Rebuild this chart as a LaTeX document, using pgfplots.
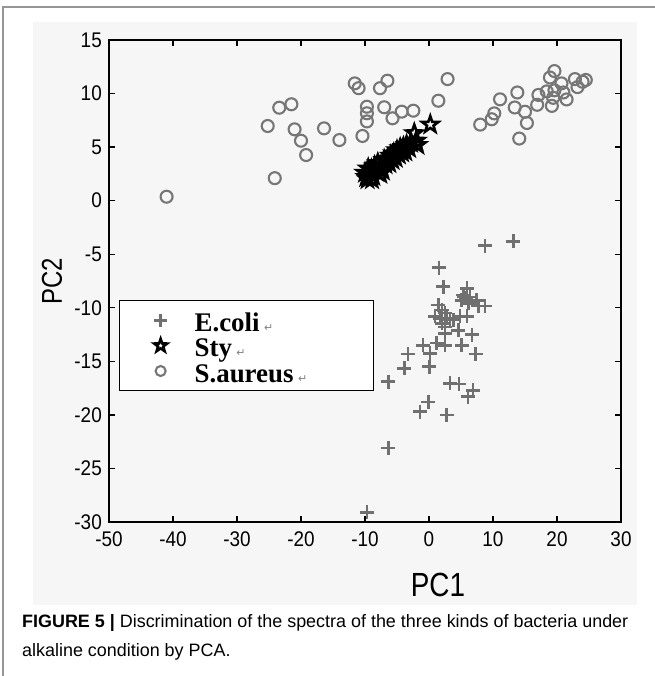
\documentclass[border=0pt]{standalone}
\usepackage{fontspec}
\setmainfont{Liberation Sans}
\newfontfamily\serifb{Liberation Serif}
\newfontfamily\dejavu{DejaVu Sans}
\usepackage{graphicx}
\usepackage{pgfplots}
\pgfplotsset{compat=1.18}
\definecolor{markgray}{RGB}{112,112,112}
\definecolor{circgray}{RGB}{118,118,118}
\definecolor{panel}{RGB}{246,246,246}
\definecolor{framegray}{RGB}{150,150,150}
\pgfdeclareplotmark{pentagram}{%
  \pgfpathmoveto{\pgfpointpolar{90}{\pgfplotmarksize}}%
  \pgfpathlineto{\pgfpointpolar{126}{0.4\pgfplotmarksize}}%
  \pgfpathlineto{\pgfpointpolar{162}{\pgfplotmarksize}}%
  \pgfpathlineto{\pgfpointpolar{198}{0.4\pgfplotmarksize}}%
  \pgfpathlineto{\pgfpointpolar{234}{\pgfplotmarksize}}%
  \pgfpathlineto{\pgfpointpolar{270}{0.4\pgfplotmarksize}}%
  \pgfpathlineto{\pgfpointpolar{306}{\pgfplotmarksize}}%
  \pgfpathlineto{\pgfpointpolar{342}{0.4\pgfplotmarksize}}%
  \pgfpathlineto{\pgfpointpolar{18}{\pgfplotmarksize}}%
  \pgfpathlineto{\pgfpointpolar{54}{0.4\pgfplotmarksize}}%
  \pgfpathclose
  \pgfusepathqstroke
}
\pgfplotsset{mylegimg/.style={legend image code/.code={%
  \draw[##1,mark size=#1] plot coordinates {(31bp,0bp)};
  \path[draw=none,fill=none] (0bp,0bp) -- (65bp,0bp);}}}
\newcommand{\legtext}[1]{\makebox[169bp][l]{\rule[-6.65bp]{0pt}{30.5bp}\serifb\bfseries\fontsize{27}{27}\selectfont #1\,{\dejavu\mdseries\fontsize{11}{11}\selectfont\color{gray}↵}}}
\begin{document}
\begin{tikzpicture}
\path[use as bounding box] (0,0) rectangle (655bp,676bp);
\fill[panel] (33bp,71bp) rectangle (637bp,654bp);
\draw[framegray, line width=2bp] (3bp,0bp) -- (3bp,669bp) -- (655bp,669bp);
\begin{axis}[
  at={(109bp,154bp)}, anchor=south west,
  scale only axis, width=512bp, height=482bp,
  xmin=-50, xmax=30, ymin=-30, ymax=15,
  xtick={-50,-40,...,30}, ytick={-30,-25,...,15},
  tick align=inside, major tick length=6bp,
  axis line style={line width=1.3bp, black},
  every tick/.style={line width=1.3bp, black},
  xticklabel={\scalebox{1}[1.12]{\pgfmathprintnumber[assume math mode=true]{\tick}}},
  yticklabel={\scalebox{1}[1.12]{\pgfmathprintnumber[assume math mode=true]{\tick}}},
  ticklabel style={font=\fontsize{19}{19}\selectfont, inner sep=0pt},
  xticklabel style={yshift=-9bp},
  yticklabel style={xshift=-7bp},
  legend cell align=left,
  legend style={at={(0.0195,0.4606)}, anchor=north west, draw=black, line width=1.3bp,
    fill=white, inner xsep=10bp, inner ysep=7bp, row sep=0bp, column sep=0bp,
    nodes={inner sep=0pt}},
]
\addplot[only marks, mark=+, mark size=7bp, markgray, line width=2.5bp, mark options={solid, line width=2.5bp}, mylegimg=6.5bp]
coordinates {
(8.75,-4.2) (13.2,-3.8) (1.56,-6.26) (2.24,-8.03) (5.9,-8.2) (5.4,-9.0) (5.36,-8.8)
(6.4,-9.0) (5.1,-9.3) (5.8,-9.1) (6.2,-9.6) (7.45,-9.3) (7.7,-9.85) (8.75,-9.85)
(1.46,-9.75) (0.94,-10.8) (2.0,-10.2) (2.5,-10.5) (1.7,-11.0) (2.76,-11.0) (3.3,-11.1)
(2.0,-11.45) (2.5,-11.8) (2.5,-12.4) (3.8,-11.1) (4.84,-10.8) (5.9,-10.8) (4.6,-12.1)
(6.7,-12.5) (1.2,-13.3) (2.5,-13.5) (-0.9,-13.5) (0.16,-14.25) (5.1,-13.5) (7.3,-14.3)
(-3.3,-14.3) (-3.85,-15.65) (0.05,-15.5) (-6.35,-16.9) (3.3,-17.05) (4.7,-17.1)
(6.9,-17.7) (6.1,-18.3) (-0.1,-18.8) (-1.4,-19.7) (2.76,-20.0) (-6.35,-23.1) (-9.7,-29.1)
};
\addlegendentry{\legtext{E.coli}}
\addplot[only marks, mark=pentagram, mark size=8.5bp, black, line width=2.6bp, mark options={solid, line width=2.6bp, line join=miter}, mylegimg=6.8bp]
coordinates {
(-10.0,2.6) (-9.8,2.2) (-9.5,3.0) (-9.2,2.5) (-9.0,2.9) (-8.7,2.3) (-8.5,3.2) (-8.2,2.7)
(-8.0,3.5) (-7.8,3.0) (-7.5,3.3) (-7.2,2.8) (-7.0,3.8) (-6.8,3.4) (-6.5,3.9) (-6.2,3.5)
(-6.0,4.2) (-5.7,3.8) (-5.5,4.4) (-5.2,4.0) (-5.0,4.7) (-4.7,4.3) (-4.5,4.9) (-4.2,4.5)
(-4.0,5.0) (-3.7,4.6) (-3.5,5.2) (-3.1,4.9) (-2.8,5.4) (-2.3,6.3) (-2.0,5.6) (-1.8,5.2)
(0.2,7.1) (-9.6,2.0) (-8.9,2.0) (-7.6,2.5)
};
\addlegendentry{\legtext{Sty}}
\addplot[only marks, mark=o, mark size=6bp, circgray, line width=2.1bp, mark options={solid, line width=2.1bp}, mylegimg=5bp]
coordinates {
(-41.0,0.37) (-24.1,2.1) (-25.2,6.97) (-23.4,8.68) (-21.5,9.0) (-21.0,6.66) (-20.0,5.6)
(-19.2,4.26) (-16.4,6.75) (-14.0,5.66) (-11.6,10.95) (-11.0,10.5) (-9.7,8.77) (-9.7,8.16)
(-9.7,7.4) (-10.4,6.04) (-7.66,10.5) (-6.5,11.2) (-7.0,8.72) (-5.7,7.69) (-4.27,8.31)
(-2.45,8.4) (1.46,9.33) (2.9,11.35) (8.0,7.1) (9.8,7.6) (10.2,8.15) (11.1,9.46)
(13.8,10.1) (13.4,8.7) (15.0,8.3) (15.3,7.25) (14.1,5.8) (17.1,9.87) (16.9,8.95)
(18.4,10.2) (18.9,11.5) (19.6,12.1) (19.2,8.85) (19.4,9.6) (19.6,10.3) (20.7,10.95)
(21.0,10.1) (21.5,9.45) (22.8,11.35) (23.2,10.6) (24.0,11.1) (24.5,11.27)
};
\addlegendentry{\legtext{S.aureus}}
\end{axis}
\node at (438bp,91bp) {\fontsize{28}{28}\selectfont\scalebox{1}[1.2]{PC1}};
\node[rotate=90] at (52bp,394.5bp) {\fontsize{24}{24}\selectfont\scalebox{1}[1.2]{PC2}};
\node[anchor=base west, inner sep=0pt] at (22bp,48bp) {\fontsize{18}{21}\selectfont\textbf{FIGURE 5 |} Discrimination of the spectra of the three kinds of bacteria under};
\node[anchor=base west, inner sep=0pt] at (22bp,20bp) {\fontsize{18}{21}\selectfont alkaline condition by PCA.};
\end{tikzpicture}
\end{document}
